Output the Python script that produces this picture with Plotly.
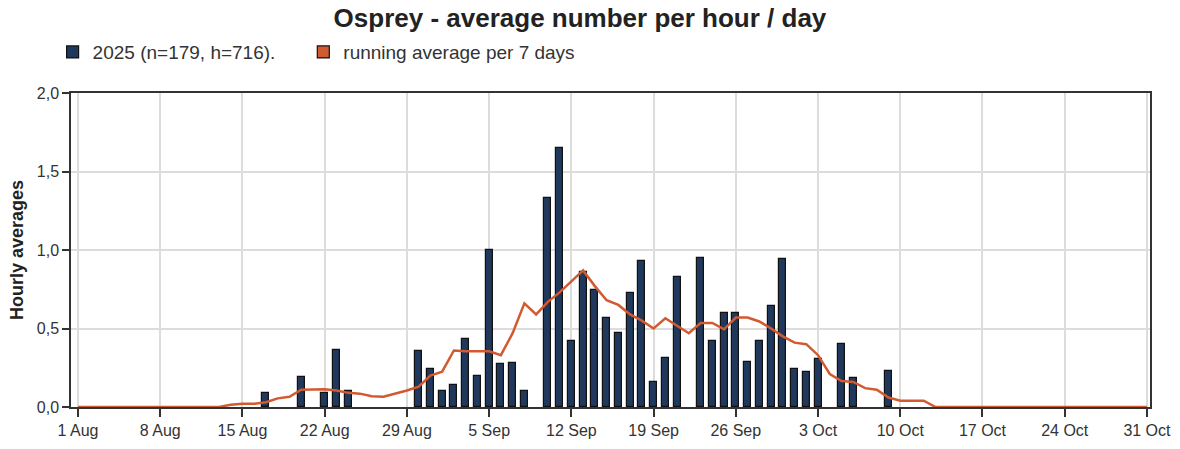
import plotly.graph_objects as go
import pandas as pd

# ---- data ----
bar_dates = ["2025-08-17", "2025-08-20", "2025-08-22", "2025-08-23", "2025-08-24",
             "2025-08-30", "2025-08-31", "2025-09-01", "2025-09-02", "2025-09-03",
             "2025-09-04", "2025-09-05", "2025-09-06", "2025-09-07", "2025-09-08",
             "2025-09-10", "2025-09-11", "2025-09-12", "2025-09-13", "2025-09-14",
             "2025-09-15", "2025-09-16", "2025-09-17", "2025-09-18", "2025-09-19",
             "2025-09-20", "2025-09-21", "2025-09-23", "2025-09-24", "2025-09-25",
             "2025-09-26", "2025-09-27", "2025-09-28", "2025-09-29", "2025-09-30",
             "2025-10-01", "2025-10-02", "2025-10-03", "2025-10-05", "2025-10-06",
             "2025-10-09"]
bar_values = [0.09, 0.19, 0.09, 0.365, 0.10,
              0.355, 0.24, 0.10, 0.14, 0.435,
              0.20, 1.0, 0.275, 0.28, 0.10,
              1.33, 1.65, 0.42, 0.86, 0.745,
              0.57, 0.47, 0.725, 0.93, 0.16,
              0.315, 0.83, 0.95, 0.42, 0.60,
              0.60, 0.285, 0.42, 0.645, 0.94,
              0.245, 0.225, 0.305, 0.40, 0.185,
              0.23]

avg_start = "2025-08-01"
avg_values = ([0.0] * 13 +
              [0.015, 0.02, 0.02, 0.03, 0.055, 0.065, 0.11, 0.113, 0.113, 0.105,
               0.09, 0.085, 0.068, 0.065, 0.085, 0.105, 0.13, 0.20, 0.225, 0.36,
               0.355, 0.355, 0.355, 0.33, 0.47, 0.66, 0.59, 0.67, 0.73, 0.80,
               0.87, 0.77, 0.68, 0.65, 0.59, 0.55, 0.50, 0.565, 0.52, 0.47,
               0.535, 0.535, 0.495, 0.57, 0.57, 0.545, 0.50, 0.45, 0.41, 0.40,
               0.33, 0.21, 0.165, 0.16, 0.12, 0.11, 0.06, 0.04, 0.04, 0.04] +
              [0.0] * 19)
avg_dates = pd.date_range(avg_start, periods=len(avg_values), freq="D")

tick_vals = ["2025-08-01", "2025-08-08", "2025-08-15", "2025-08-22", "2025-08-29",
             "2025-09-05", "2025-09-12", "2025-09-19", "2025-09-26", "2025-10-03",
             "2025-10-10", "2025-10-17", "2025-10-24", "2025-10-31"]
tick_text = ["1 Aug", "8 Aug", "15 Aug", "22 Aug", "29 Aug", "5 Sep", "12 Sep",
             "19 Sep", "26 Sep", "3 Oct", "10 Oct", "17 Oct", "24 Oct", "31 Oct"]

bar_name = "2025 (n=179, h=716)."
avg_name = "running average per 7 days"

BAR_COLOR = "#1f385c"
LINE_COLOR = "#d25a30"
FONT = "Liberation Sans, Arial, sans-serif"

fig = go.Figure()
fig.add_trace(go.Scatter(x=avg_dates, y=avg_values, mode="lines", name=avg_name,
                         line=dict(color=LINE_COLOR, width=2.5), showlegend=False,
                         hoverinfo="skip"))
fig.add_trace(go.Bar(x=bar_dates, y=bar_values, name=bar_name,
                     marker=dict(color=BAR_COLOR, line=dict(color="#111111", width=1.2)),
                     width=0.6 * 86400000, legend="legend"))
fig.add_trace(go.Bar(x=[None], y=[None], name=avg_name,
                     marker=dict(color=LINE_COLOR, line=dict(color="#111111", width=1.2)),
                     legend="legend2"))

legend_common = dict(orientation="h", xref="container", yref="container",
                     xanchor="left", yanchor="middle", y=0.884,
                     font=dict(size=19, color="#333333"), bgcolor="rgba(0,0,0,0)")

fig.update_layout(
    width=1180, height=449,
    margin=dict(l=71, r=30, t=93, b=42, autoexpand=False),
    paper_bgcolor="white", plot_bgcolor="white",
    separators=",.",
    font=dict(family=FONT, color="#333333", size=18),
    title=dict(text="<b>Osprey - average number per hour / day</b>",
               x=0.4915, xref="container", xanchor="center",
               y=0.96, yref="container", yanchor="middle",
               font=dict(size=26, color="#222222", family=FONT)),
    legend=dict(x=52.6 / 1180, **legend_common),
    legend2=dict(x=303.3 / 1180, **legend_common),
    bargap=0,
    xaxis=dict(type="date", automargin=False,
               range=["2025-07-31 09:40", "2025-10-31 06:15"],
               tickvals=tick_vals, ticktext=tick_text,
               ticks="outside", ticklen=8, tickcolor="#333333", tickwidth=1.5,
               showline=True, linecolor="#333333", linewidth=1.5, mirror=True,
               showgrid=True, gridcolor="#dcdcdc", gridwidth=1.8,
               tickfont=dict(size=16, color="#333333")),
    yaxis=dict(range=[0, 2.0], tickvals=[0, 0.5, 1.0, 1.5, 2.0], tickformat=".1f",
               automargin=False,
               ticks="outside", ticklen=7, tickcolor="#333333", tickwidth=1.5,
               showline=True, linecolor="#333333", linewidth=1.5, mirror=True,
               showgrid=True, gridcolor="#dcdcdc", gridwidth=1.8, zeroline=False,
               tickfont=dict(size=16, color="#333333"),
               title=dict(text="<b>Hourly averages</b>", standoff=8,
                          font=dict(size=18, color="#222222"))),
)

fig.write_html("out.html", config={"displayModeBar": False},
               post_script="document.body.style.margin='0';")
